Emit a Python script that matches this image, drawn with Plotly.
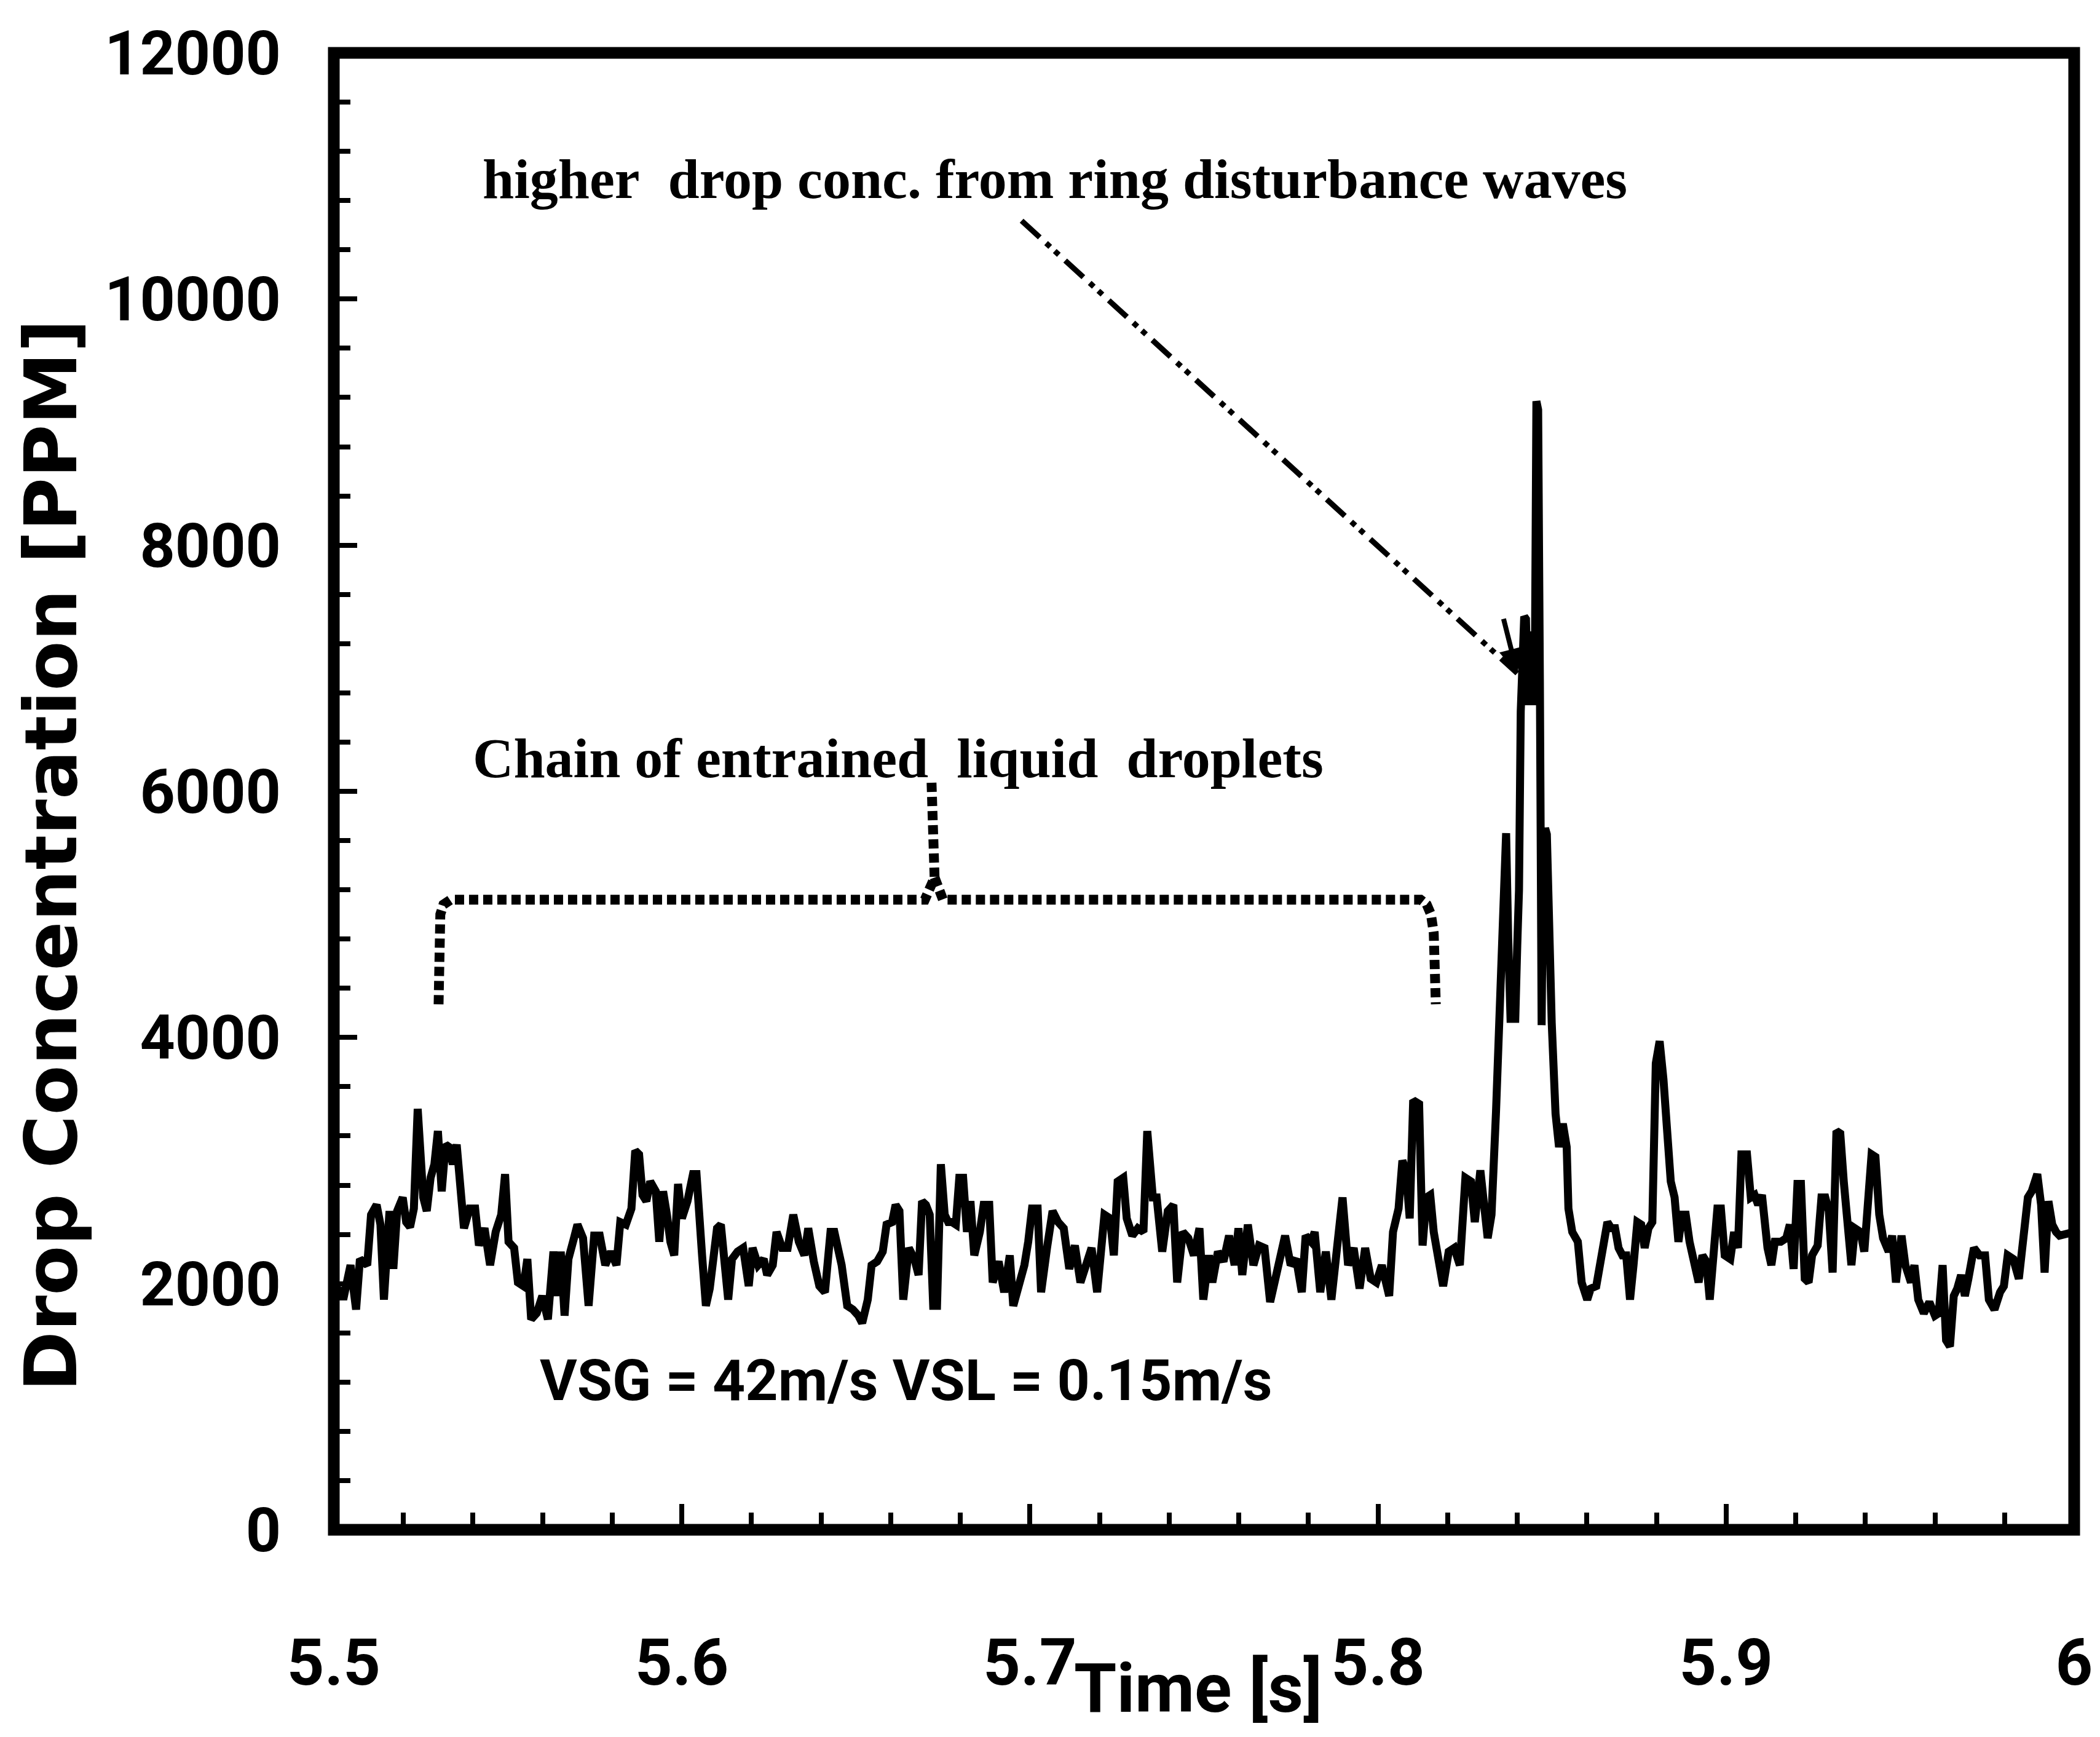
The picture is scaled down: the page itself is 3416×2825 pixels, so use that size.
import plotly.graph_objects as go

# Drop concentration record, VSG = 42 m/s, VSL = 0.15 m/s
time_s = [
    5.5000, 5.5021, 5.5027, 5.5037, 5.5048, 5.5064, 5.5075, 5.5096, 5.5107, 5.5123,
    5.5134, 5.5144, 5.5160, 5.5171, 5.5182, 5.5198, 5.5208, 5.5219, 5.5230, 5.5241,
    5.5257, 5.5267, 5.5278, 5.5289, 5.5299, 5.5310, 5.5321, 5.5331, 5.5342, 5.5353,
    5.5363, 5.5374, 5.5390, 5.5406, 5.5417, 5.5433, 5.5449, 5.5465, 5.5481, 5.5492,
    5.5502, 5.5518, 5.5529, 5.5545, 5.5556, 5.5567, 5.5583, 5.5599, 5.5615, 5.5631,
    5.5641, 5.5652, 5.5663, 5.5674, 5.5690, 5.5700, 5.5716, 5.5732, 5.5748, 5.5764,
    5.5780, 5.5796, 5.5812, 5.5823, 5.5839, 5.5855, 5.5866, 5.5877, 5.5887, 5.5898,
    5.5909, 5.5925, 5.5935, 5.5946, 5.5957, 5.5967, 5.5978, 5.5989, 5.6000, 5.6016,
    5.6032, 5.6042, 5.6058, 5.6069, 5.6080, 5.6090, 5.6101, 5.6112, 5.6123, 5.6133,
    5.6144, 5.6160, 5.6176, 5.6192, 5.6203, 5.6219, 5.6235, 5.6245, 5.6261, 5.6272,
    5.6288, 5.6304, 5.6320, 5.6336, 5.6352, 5.6363, 5.6379, 5.6395, 5.6411, 5.6427,
    5.6438, 5.6449, 5.6459, 5.6475, 5.6491, 5.6507, 5.6518, 5.6534, 5.6545, 5.6561,
    5.6577, 5.6588, 5.6604, 5.6614, 5.6625, 5.6636, 5.6652, 5.6668,
    5.6680, 5.6690, 5.6701, 5.6712, 5.6722, 5.6733, 5.6744, 5.6755, 5.6765, 5.6776,
    5.6787, 5.6797, 5.6808, 5.6819, 5.6829, 5.6840, 5.6856, 5.6867, 5.6883, 5.6893,
    5.6910, 5.6926, 5.6942, 5.6952, 5.6968, 5.6984, 5.6995, 5.7006, 5.7022, 5.7032,
    5.7049, 5.7065, 5.7081, 5.7097, 5.7113, 5.7129, 5.7145, 5.7161, 5.7177, 5.7193,
    5.7204, 5.7214, 5.7230, 5.7241, 5.7252, 5.7268, 5.7278, 5.7294, 5.7310, 5.7326,
    5.7337, 5.7353, 5.7364, 5.7380, 5.7396, 5.7412, 5.7423, 5.7439, 5.7455, 5.7471,
    5.7487, 5.7498, 5.7514, 5.7524, 5.7540, 5.7556, 5.7572, 5.7588, 5.7599, 5.7610,
    5.7626, 5.7642, 5.7658, 5.7674, 5.7690, 5.7701, 5.7717, 5.7733, 5.7749, 5.7765,
    5.7781, 5.7792, 5.7808, 5.7818, 5.7834, 5.7850, 5.7866, 5.7882, 5.7898, 5.7914,
    5.7930, 5.7947, 5.7963, 5.7979, 5.7995, 5.8011, 5.8032, 5.8043, 5.8059, 5.8070,
    5.8080, 5.8091, 5.8101, 5.8118, 5.8128, 5.8139, 5.8150, 5.8160, 5.8176, 5.8187,
    5.8203, 5.8219, 5.8235, 5.8251, 5.8267, 5.8278, 5.8294, 5.8305, 5.8315, 5.8326,
    5.8333, 5.8339, 5.8344, 5.8349, 5.8355, 5.8362, 5.8368, 5.8374, 5.8381, 5.8388,
    5.8394, 5.8400, 5.8405, 5.8410, 5.8415, 5.8420, 5.8425, 5.8430, 5.8435, 5.8440,
    5.8445, 5.8450, 5.8455, 5.8460, 5.8465, 5.8470, 5.8475, 5.8480, 5.8485, 5.8490,
    5.8495,
    5.8499, 5.8510, 5.8520, 5.8531, 5.8542, 5.8547, 5.8558, 5.8574, 5.8585, 5.8601,
    5.8611, 5.8627, 5.8638, 5.8649, 5.8659, 5.8670, 5.8681, 5.8691, 5.8702, 5.8713,
    5.8724, 5.8734, 5.8745, 5.8756, 5.8766, 5.8777, 5.8788, 5.8798, 5.8809, 5.8820,
    5.8830, 5.8841, 5.8852, 5.8863, 5.8873, 5.8884, 5.8895, 5.8911, 5.8921, 5.8932,
    5.8943, 5.8953, 5.8964, 5.8975, 5.8985, 5.8996, 5.9012, 5.9023, 5.9034, 5.9044,
    5.9060, 5.9071, 5.9082, 5.9092, 5.9103, 5.9119, 5.9130, 5.9140, 5.9157, 5.9173,
    5.9183, 5.9194, 5.9205, 5.9215, 5.9226, 5.9237, 5.9247, 5.9263, 5.9274, 5.9285,
    5.9295, 5.9306, 5.9317, 5.9328, 5.9338, 5.9349, 5.9360, 5.9370, 5.9386, 5.9397,
    5.9408, 5.9418, 5.9429, 5.9440, 5.9451, 5.9467, 5.9477, 5.9488, 5.9504, 5.9515,
    5.9531, 5.9541, 5.9552, 5.9568, 5.9584, 5.9600, 5.9611, 5.9622, 5.9632, 5.9643,
    5.9654, 5.9664, 5.9675, 5.9686, 5.9696, 5.9712, 5.9728, 5.9744, 5.9755, 5.9771,
    5.9787, 5.9798, 5.9809, 5.9825, 5.9841, 5.9851, 5.9867, 5.9878, 5.9894, 5.9905,
    5.9915, 5.9926, 5.9937, 5.9948, 5.9958, 6.0000,
]

drop_ppm = [
    1900, 1960, 1870, 2010, 2150, 1790, 2200, 2150, 2560, 2640,
    2480, 1870, 2590, 2120, 2590, 2700, 2500, 2460, 2610, 3420,
    2700, 2590, 2860, 2970, 3240, 2750, 3130, 3110, 2970, 3130,
    2700, 2450, 2610, 2610, 2310, 2450, 2150, 2420, 2560, 2890,
    2340, 2290, 2010, 1980, 2200, 1710, 1760, 1900, 1710, 2260,
    1900, 2260, 1740, 2200, 2370, 2480, 2370, 1820, 2390, 2390,
    2150, 2260, 2150, 2500, 2480, 2610, 3080, 3050, 2720, 2670,
    2830, 2750, 2340, 2750, 2560, 2340, 2230, 2810, 2530, 2670,
    2890, 2890, 2230, 1820, 1960, 2150, 2450, 2480, 2150, 1870,
    2200, 2260, 2290, 1980, 2290, 2150, 2200, 2070, 2150, 2420,
    2290, 2290, 2560, 2340, 2230, 2450, 2180, 1980, 1930, 2420,
    2420, 2310, 2150, 1820, 1790, 1740, 1680, 1870, 2150, 2180,
    2260, 2480, 2500, 2640, 2590, 1870, 2290, 2200,
    2070, 2670, 2640, 2560, 1820, 1820, 2970, 2560, 2500, 2500,
    2480, 2860, 2860, 2420, 2670, 2230, 2420, 2640, 2640, 2010,
    2180, 1930, 2230, 1820, 1960, 2150, 2340, 2610, 2610, 1930,
    2290, 2590, 2500, 2450, 2120, 2310, 2010, 2150, 2290, 1930,
    2290, 2560, 2530, 2230, 2830, 2860, 2530, 2390, 2450, 2420,
    3240, 2700, 2700, 2260, 2590, 2640, 2010, 2420, 2370, 2230,
    2450, 1870, 2230, 2010, 2260, 2180, 2390, 2150, 2450, 2070,
    2480, 2150, 2310, 2290, 1850, 2010, 2200, 2390, 2150, 2200,
    1930, 2390, 2340, 2420, 1930, 2260, 1870, 2260, 2700, 2150,
    2290, 1960, 2290, 2040, 2010, 2150, 1900, 2420, 2610, 3000,
    2920, 2530, 3490, 3460, 2310, 2700, 2720, 2420, 2200, 1980,
    2260, 2290, 2150, 2860, 2830, 2500, 2920, 2590, 2370, 2560,
    2900, 3400, 3790, 4200, 4600, 5300, 5660, 4800, 4120, 4600,
    4120, 4750, 5200, 6650, 7000, 7420, 7400, 6700, 7300, 6800,
    7200, 6700, 9170, 9100, 6900, 4100, 5600, 5700, 5650, 4900,
    4300,
    4120, 3380, 3110, 3300, 3110, 2610, 2420, 2340, 2010, 1870,
    1960, 1980, 2150, 2340, 2500, 2450, 2450, 2290, 2230, 2230,
    1870, 2150, 2500, 2480, 2290, 2450, 2500, 3790, 3970, 3660,
    3300, 2830, 2700, 2340, 2560, 2560, 2340, 2150, 2010, 2230,
    2180, 1870, 2200, 2610, 2610, 2230, 2200, 2420, 2290, 3050,
    3050, 2700, 2720, 2640, 2720, 2290, 2150, 2340, 2340, 2370,
    2480, 2120, 2810, 2810, 2040, 2010, 2230, 2310, 2700, 2700,
    2590, 2090, 3240, 3220, 2830, 2560, 2150, 2450, 2420, 2260,
    2610, 3050, 3030, 2560, 2370, 2260, 2390, 2010, 2390, 2150,
    2010, 2150, 1870, 1760, 1850, 1740, 1760, 2150, 1540, 1490,
    1900, 1960, 2070, 1900, 2040, 2290, 2230, 2230, 1870, 1790,
    1930, 1980, 2230, 2200, 2040, 2340, 2700, 2750, 2890, 2640,
    2090, 2670, 2480, 2420, 2390, 2420,
]

x_tick_vals = [5.5, 5.6, 5.7, 5.8, 5.9, 6.0]
x_tick_text = ["5.5", "5.6", "5.7", "5.8", "5.9", "6"]
y_tick_vals = [0, 2000, 4000, 6000, 8000, 10000, 12000]
y_tick_text = ["0", "2000", "4000", "6000", "8000", "10000", "12000"]

# Dotted bracket grouping the droplet chain (time [s], ppm)
bracket_t = [5.5301, 5.5302, 5.5306, 5.5315, 5.5336, 5.6698, 5.6726, 5.6717,
             None, 5.6726, 5.6750, 5.8122, 5.8140, 5.8152, 5.8160, 5.8166]
bracket_ppm = [4270, 4850, 5000, 5080, 5120, 5120, 5300, 6090,
               None, 5300, 5120, 5120, 5080, 5000, 4850, 4270]

# Leader from the ring-wave note down to the peak (time [s], ppm)
leader_t = [5.6976, 5.8400]
leader_ppm = [10636, 6959]

SANS = "Roboto, sans-serif"
SERIF = "Liberation Serif, Times New Roman, serif"
BLACK = "#000000"

fig = go.Figure()

fig.add_trace(go.Scatter(
    x=time_s, y=drop_ppm, mode="lines",
    line=dict(color=BLACK, width=13),
    showlegend=False, hoverinfo="skip",
))

fig.add_trace(go.Scatter(
    x=bracket_t, y=bracket_ppm, mode="lines",
    line=dict(color=BLACK, width=16, dash="15px,8px"),
    showlegend=False, hoverinfo="skip",
))

fig.add_shape(
    type="line", xref="x", yref="y",
    x0=leader_t[0], y0=leader_ppm[0], x1=leader_t[1], y1=leader_ppm[1],
    line=dict(color=BLACK, width=9, dash="40px,14px,9px,10px,9px,14px"),
)
fig.add_annotation(
    x=leader_t[1], y=leader_ppm[1], xref="x", yref="y",
    ax=leader_t[1] - 0.004, ay=leader_ppm[1] + 450, axref="x", ayref="y",
    text="", showarrow=True, arrowhead=2, arrowsize=1.0, arrowwidth=8,
    arrowcolor=BLACK,
)

# plot frame
fig.add_shape(
    type="rect", xref="paper", yref="paper", x0=0, y0=0, x1=1, y1=1,
    line=dict(color=BLACK, width=19), layer="above",
)

fig.add_annotation(
    x=5.7071, y=10976, xref="x", yref="y", showarrow=False,
    text="higher\u00a0 drop conc. from ring disturbance waves",
    font=dict(family=SERIF, size=92, color=BLACK, weight="bold"),
)
fig.add_annotation(
    x=5.6621, y=6270, xref="x", yref="y", showarrow=False,
    text="Chain of entrained\u00a0 liquid\u00a0 droplets",
    font=dict(family=SERIF, size=92, color=BLACK, weight="bold"),
)
fig.add_annotation(
    x=5.6643, y=1214, xref="x", yref="y", showarrow=False,
    text="VSG = 42m/s VSL = 0.15m/s",
    font=dict(family=SANS, size=93, color=BLACK, weight="bold"),
)

# axis titles
fig.add_annotation(
    x=0.4965, y=-0.107, xref="paper", yref="paper", showarrow=False,
    text="Time [s]", xanchor="center", yanchor="middle",
    font=dict(family=SANS, size=112, color=BLACK, weight="bold"),
)
fig.add_annotation(
    x=-0.1625, y=0.4567, xref="paper", yref="paper", showarrow=False,
    text="Drop Concentration [PPM]", textangle=-90,
    xanchor="center", yanchor="middle",
    font=dict(family="DejaVu Sans, sans-serif", size=118, color=BLACK, weight="bold"),
)

fig.update_xaxes(
    range=[5.5, 6.0], showline=False, showgrid=False, zeroline=False,
    tickmode="array", tickvals=x_tick_vals, ticktext=x_tick_text,
    ticks="inside", ticklen=42, tickwidth=8, tickcolor=BLACK,
    minor=dict(tickmode="linear", tick0=5.5, dtick=0.02, ticks="inside",
               ticklen=28, tickwidth=8, tickcolor=BLACK),
    ticklabelstandoff=145, ticklabeloverflow="allow",
    tickfont=dict(family=SANS, size=106, color=BLACK, weight="bold"),
)
fig.update_yaxes(
    range=[0, 12000], showline=False, showgrid=False, zeroline=False,
    tickmode="array", tickvals=y_tick_vals, ticktext=y_tick_text,
    ticks="inside", ticklen=38, tickwidth=8, tickcolor=BLACK,
    minor=dict(tickmode="linear", tick0=0, dtick=400, ticks="inside",
               ticklen=27, tickwidth=8, tickcolor=BLACK),
    ticklabelstandoff=85,
    tickfont=dict(family=SANS, size=100, color=BLACK, weight="bold"),
)

fig.update_layout(
    width=3416, height=2825,
    margin=dict(l=543, r=19, t=86, b=337, pad=0),
    paper_bgcolor="white", plot_bgcolor="white",
    showlegend=False,
)

fig.write_html("out.html")
